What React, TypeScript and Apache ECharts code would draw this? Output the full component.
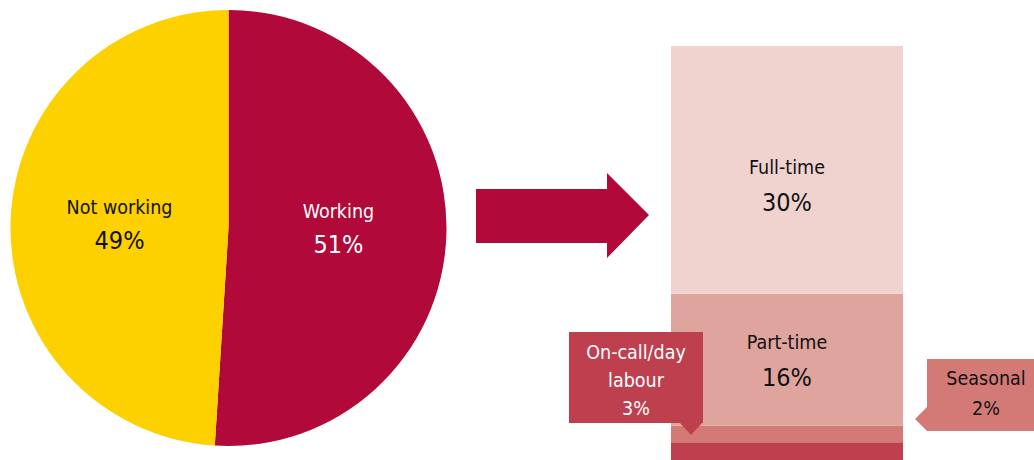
import React, { useEffect, useRef } from "react";
import * as echarts from "echarts";

const pieCategories = ["Working", "Not working"];
const pieValues = [51, 49];
const pieColors = ["#B0093A", "#FDD000"];
const pieLabelColors = ["#FFFFFF", "#111111"];

const workCategories = ["On-call/day labour", "Seasonal", "Part-time", "Full-time"];
const workValues = [3, 2, 16, 30];
const workColors = ["#BE404F", "#D47A76", "#DFA49D", "#F0D3CF"];

const FONT = "'DejaVu Sans Condensed', 'DejaVu Sans', sans-serif";
const NAME_SIZE = 19.5;
const PCT_SIZE = 25;

export default function App() {
  const ref = useRef<HTMLDivElement>(null);
  useEffect(() => {
    if (!ref.current) return;
    const chart = echarts.init(ref.current, null, { renderer: "svg" });
    const barSeries = workCategories.map((name, i) => ({
      type: "bar",
      name,
      stack: "w",
      barWidth: "100%",
      xAxisIndex: 0,
      yAxisIndex: 0,
      data: [workValues[i]],
      itemStyle: { color: workColors[i] },
      label:
        i >= 2
          ? {
              show: true,
              position: "inside",
              offset: i === 3 ? [0, 15] : [0, 0],
              formatter: `{n|${name}}\n{p|${workValues[i]}%}`,
              rich: {
                n: { fontSize: NAME_SIZE, color: "#111", fontFamily: FONT, lineHeight: 35 },
                p: { fontSize: PCT_SIZE, color: "#111", fontFamily: FONT, lineHeight: 35 },
              },
            }
          : { show: false },
    }));

    const onCallText = workCategories[0].replace(" ", "\n") + "\n" + workValues[0] + "%";
    const seasonalText = workCategories[1] + "\n" + workValues[1] + "%";

    chart.setOption({
      animation: false,
      grid: { left: 671, top: 46, width: 232, height: 421, outerBoundsMode: "none", containLabel: false },
      xAxis: { type: "category", data: ["Working"], show: false },
      yAxis: { type: "value", min: 0, max: 51, show: false },
      series: [
        {
          type: "pie",
          center: [228.5, 228],
          radius: [0, 218],
          startAngle: 90,
          clockwise: true,
          silent: true,
          data: pieCategories.map((name, i) => ({
            name,
            value: pieValues[i],
            itemStyle: { color: pieColors[i] },
            label: {
              offset: i === 0 ? [-2, -4] : [3, 0],
              rich: {
                n: { fontSize: NAME_SIZE, color: pieLabelColors[i], fontFamily: FONT, lineHeight: 33 },
                p: { fontSize: PCT_SIZE, color: pieLabelColors[i], fontFamily: FONT, lineHeight: 33 },
              },
            },
          })),
          label: { show: true, position: "inside", formatter: "{n|{b}}\n{p|{c}%}" },
          labelLine: { show: false },
        },
        ...barSeries,
      ],
      graphic: [
        {
          type: "polygon",
          shape: { points: [[476, 189], [607, 189], [607, 173], [649, 215], [607, 258], [607, 243], [476, 243]] },
          style: { fill: "#B0093A" },
        },
        {
          type: "rect",
          shape: { x: 569, y: 332, width: 134, height: 91 },
          style: { fill: workColors[0] },
          z: 10,
        },
        {
          type: "polygon",
          shape: { points: [[679, 422], [691, 435], [703, 422]] },
          style: { fill: workColors[0] },
          z: 10,
        },
        {
          type: "text",
          x: 636,
          y: 380,
          z: 11,
          style: {
            text: onCallText,
            align: "center",
            verticalAlign: "middle",
            fontSize: NAME_SIZE,
            fontFamily: FONT,
            lineHeight: 28,
            fill: "#FFFFFF",
          },
        },
        {
          type: "rect",
          shape: { x: 927, y: 359, width: 107, height: 72 },
          style: { fill: workColors[1] },
          z: 10,
        },
        {
          type: "polygon",
          shape: { points: [[927, 407], [915, 419], [927, 431]] },
          style: { fill: workColors[1] },
          z: 10,
        },
        {
          type: "text",
          x: 986,
          y: 393,
          z: 11,
          style: {
            text: seasonalText,
            align: "center",
            verticalAlign: "middle",
            fontSize: NAME_SIZE,
            fontFamily: FONT,
            lineHeight: 30,
            fill: "#111111",
          },
        },
      ],
    });
    return () => chart.dispose();
  }, []);
  return (
    <div style={{ position: "absolute", left: 0, top: 0, width: 1034, height: 460, background: "#fff" }}>
      <div ref={ref} style={{ width: 1034, height: 460 }} />
    </div>
  );
}
